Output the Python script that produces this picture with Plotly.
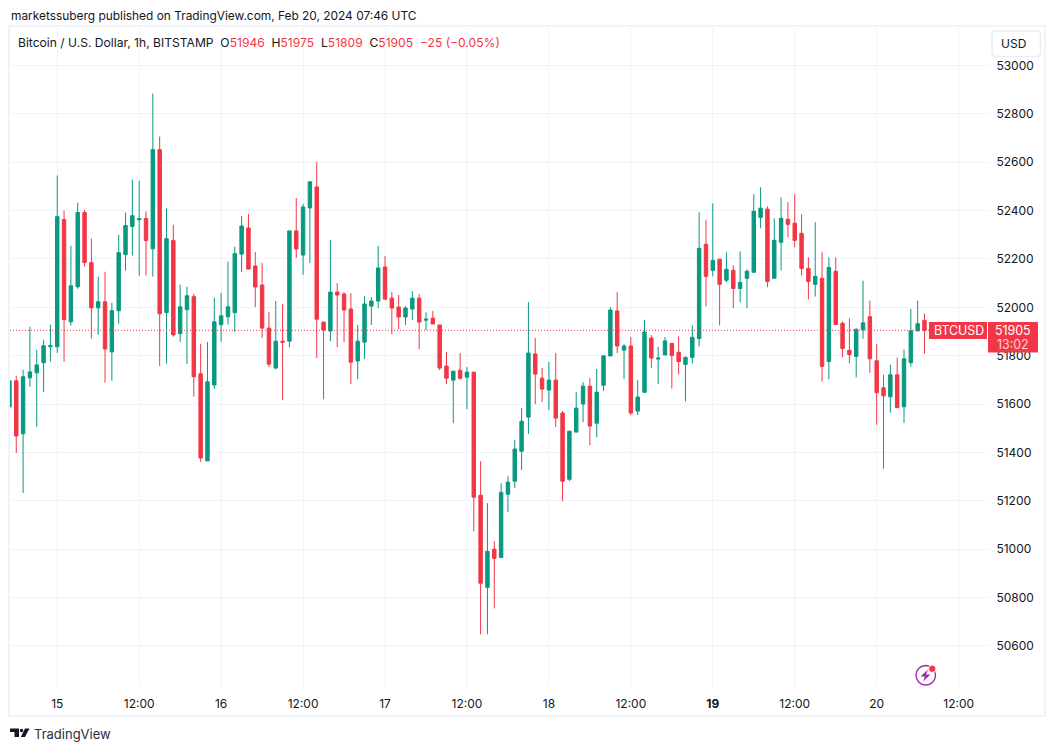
import pandas as pd
import plotly.graph_objects as go

first_candle = "2024-02-14 17:00"
opens = [51588,51696,51477,51708,51729,51771,51837,51837,52363,51940,
52085,52392,52185,51998,52023,51816,51986,52218,52334,52362,
52367,52242,52652,51978,52276,51891,51990,52044,51725,51365,
51679,51928,51961,51978,52220,52328,52171,52092,51914,51749,
51860,51860,52316,52216,52411,52498,51939,51902,52063,52055,
51993,51778,51856,52005,52026,52167,52038,52001,51960,51993,
52038,51947,51955,51927,51757,51699,51740,51711,51732,51223,
50842,51000,50966,51227,51281,51405,51546,51807,51707,51658,
51699,51563,51289,51484,51600,51674,51521,51678,51799,51985,
51823,51840,51571,51649,51873,51786,51803,51851,51814,51764,
51793,51871,52261,52153,52199,52112,52153,52078,52120,52145,
52372,52406,52120,52269,52364,52348,52306,52161,52095,52120,
51776,52149,51934,51822,51797,51907,51961,51779,51667,51630,
51721,51589,51771,51903,51946]
highs = [51696,51717,51742,51920,51824,51866,51928,52545,52400,52255,
52433,52404,52284,52127,52147,52019,52300,52392,52528,52524,
52396,52884,52706,52408,52342,52093,52085,52056,51849,51857,
52040,52060,52189,52251,52378,52386,52229,52183,51980,52026,
52014,52316,52452,52428,52519,52601,51939,52278,52100,52063,
52059,51927,52047,52042,52254,52212,52063,52051,52005,52067,
52055,51980,51985,51927,51815,51736,51811,51753,51732,51364,
51190,51033,51273,51302,51451,51583,52022,51873,51749,51774,
51811,51571,51488,51649,51691,51707,51745,51803,52001,52063,
51848,51877,51699,51948,51885,51836,51877,51851,51880,51797,
51925,52393,52360,52430,52199,52228,52174,52232,52157,52468,
52497,52418,52368,52455,52435,52468,52385,52207,52352,52228,
52207,52207,51942,51954,51913,52110,52028,51849,51721,51763,
51792,51825,51994,52028,51975]
lows = [51588,51398,51232,51671,51506,51650,51775,51812,51775,51924,
52077,52168,51870,51886,51688,51696,51932,52151,52214,52131,
52131,52127,51758,51766,51878,51857,51766,51630,51361,51365,
51663,51857,51928,51899,52146,52158,52001,51873,51753,51744,
51616,51835,52204,52134,52183,51790,51620,51860,51835,51856,
51682,51703,51786,51927,51997,52030,51889,51910,51927,51947,
51827,51906,51931,51740,51682,51521,51699,51579,51074,50648,
50648,50755,50966,51153,51252,51327,51476,51600,51608,51575,
51505,51198,51281,51484,51525,51430,51463,51654,51799,51811,
51703,51554,51554,51645,51749,51683,51803,51664,51722,51611,
51768,51838,52004,52128,51925,52103,51996,52020,51996,52145,
52327,52083,52120,52153,52290,52248,52132,52033,52045,51693,
51702,51929,51793,51768,51710,51870,51729,51514,51332,51564,
51585,51522,51754,51899,51809]
closes = [51696,51468,51713,51733,51762,51841,51841,52375,51949,52089,
52392,52185,51998,52023,51828,51986,52226,52338,52379,52367,
52276,52652,51973,52284,51886,52002,52048,51713,51377,51692,
51940,51965,52002,52222,52336,52158,52084,51914,51765,51860,
51856,52316,52241,52415,52519,51951,51906,52063,52051,51989,
51773,51860,52014,52026,52163,52034,51997,51960,51997,52038,
51939,51951,51931,51749,51707,51736,51707,51732,51215,50859,
50991,50962,51235,51277,51414,51529,51811,51724,51662,51699,
51542,51281,51488,51583,51674,51509,51649,51799,51989,51840,
51840,51563,51629,51898,51790,51790,51861,51801,51776,51793,
51876,52244,52128,52194,52095,52157,52078,52103,52149,52397,
52410,52107,52277,52368,52343,52277,52161,52107,52128,51756,
52165,51929,51830,51805,51909,51936,51787,51647,51634,51721,
51585,51787,51903,51932,51905]

x_tick_dates = ["2024-02-15 00:00","2024-02-15 12:00","2024-02-16 00:00","2024-02-16 12:00",
                "2024-02-17 00:00","2024-02-17 12:00","2024-02-18 00:00","2024-02-18 12:00",
                "2024-02-19 00:00","2024-02-19 12:00","2024-02-20 00:00","2024-02-20 12:00"]
x_tick_labels = ["15","12:00","16","12:00","17","12:00","18","12:00","<b>19</b>","12:00","20","12:00"]
y_ticks = [50600,50800,51000,51200,51400,51600,51800,52000,52200,52400,52600,52800,53000]
last_price = 51905

times = pd.date_range(first_candle, periods=len(opens), freq="h")

W, H = 1054, 751
L, R, T, B = 10, 988, 28, 687
UP, DOWN = "#089981", "#F23645"
INK = "#131722"
GRID = "#F0F3FA"
FONT = "Inter"

def px(x):
    return (x - L) / (R - L)
def py(y):
    return (B - y) / (B - T)

fig = go.Figure(go.Candlestick(
    x=times, open=opens, high=highs, low=lows, close=closes,
    increasing=dict(line=dict(color=UP, width=1), fillcolor=UP),
    decreasing=dict(line=dict(color=DOWN, width=1), fillcolor=DOWN),
    whiskerwidth=0, hoverinfo="skip", showlegend=False,
))

shapes = [
    dict(type="line", xref="paper", yref="y", x0=0, x1=1, y0=last_price, y1=last_price,
         line=dict(color=DOWN, width=1, dash="1px,2px"), layer="above"),
    # outer frame
    dict(type="rect", xref="paper", yref="paper", x0=px(9), x1=px(1045), y0=py(26), y1=py(716),
         line=dict(color=GRID, width=2), fillcolor="rgba(0,0,0,0)"),
    # symbol and price tags
    dict(type="rect", xref="paper", yref="paper", x0=px(929), x1=px(987), y0=py(322), y1=py(339),
         line=dict(width=0), fillcolor=DOWN),
    dict(type="rect", xref="paper", yref="paper", x0=px(988), x1=px(1038), y0=py(322), y1=py(352.5),
         line=dict(width=0), fillcolor=DOWN),
    # USD button
    dict(type="path", xref="paper", yref="paper",
         path="M {} {} Q {} {} {} {} L {} {} Q {} {} {} {} L {} {} Q {} {} {} {} L {} {} Q {} {} {} {} Z".format(
             px(992), py(35), px(992), py(31), px(996), py(31),
             px(1036.5), py(31), px(1040.5), py(31), px(1040.5), py(35),
             px(1040.5), py(52.5), px(1040.5), py(56.5), px(1036.5), py(56.5),
             px(996), py(56.5), px(992), py(56.5), px(992), py(52.5)),
         line=dict(color="#EAEDF5", width=1.6), fillcolor="white"),
    # TradingView mark
    dict(type="path", xref="paper", yref="paper",
         path="M {} {} L {} {} L {} {} L {} {} L {} {} L {} {} Z".format(
             px(10), py(728.5), px(19), py(728.5), px(19), py(737), px(14.5), py(737), px(14.5), py(732), px(10), py(732)),
         line=dict(width=0), fillcolor=INK),
    dict(type="circle", xref="paper", yref="paper", x0=px(19.8), x1=px(23.2), y0=py(732.2), y1=py(728.8),
         line=dict(width=0), fillcolor=INK),
    dict(type="path", xref="paper", yref="paper",
         path="M {} {} L {} {} L {} {} L {} {} Z".format(
             px(25), py(728.5), px(29.5), py(728.5), px(25), py(737), px(20.8), py(737)),
         line=dict(width=0), fillcolor=INK),
    # lightning badge
    dict(type="circle", xref="paper", yref="paper", x0=px(916), x1=px(935.5), y0=py(685), y1=py(665.5),
         line=dict(color="#9C27B0", width=1.4), fillcolor="rgba(0,0,0,0)"),
    dict(type="path", xref="paper", yref="paper",
         path="M {} {} L {} {} L {} {} L {} {} L {} {} L {} {} Z".format(
             px(928), py(669.5), px(920.5), py(676.5), px(925), py(676.5), px(923), py(681.5), px(930.5), py(674.5), px(926), py(674.5)),
         line=dict(width=0), fillcolor="#9C27B0"),
    dict(type="circle", xref="paper", yref="paper", x0=px(928.5), x1=px(936), y0=py(672.5), y1=py(665),
         line=dict(color="white", width=1), fillcolor=DOWN),
]

def note(x, y, text, size=12, color=INK, anchor="left"):
    return dict(xref="paper", yref="paper", x=px(x), y=py(y), text=text, showarrow=False,
                xanchor=anchor, yanchor="middle", align=anchor,
                font=dict(family=FONT, size=size, color=color), borderpad=0)

def red(s):
    return f'<span style="color:{DOWN}">{s}</span>'

legend = ("Bitcoin / U.S. Dollar, 1h, BITSTAMP  "
          f"O{red('51946')}  H{red('51975')}  L{red('51809')}  C{red('51905')}  {red('−25 (−0.05%)')}")

annotations = [
    note(10, 15.5, "marketssuberg published on TradingView.com, Feb 20, 2024 07:46 UTC", 11.9),
    note(17, 43, legend, 12.1),
    note(1014, 43.5, "USD", 12, anchor="center"),
    note(958.5, 330.5, "BTCUSD", 12.4, "#FFFFFF", "center"),
    note(1013, 330.5, "51905", 12.4, "#FFFFFF", "center"),
    note(1013, 344.5, "13:02", 12.4, "#FBD5D9", "center"),
    note(33, 734, "TradingView", 13, "#2A2E39"),
]

fig.update_layout(
    width=W, height=H, autosize=False,
    margin=dict(l=L, r=W - R, t=T, b=H - B, pad=0),
    paper_bgcolor="white", plot_bgcolor="white",
    font=dict(family=FONT, size=12, color=INK),
    showlegend=False, boxgap=0.28,
    shapes=shapes, annotations=annotations,
    xaxis=dict(
        type="date", rangeslider=dict(visible=False),
        range=["2024-02-14 17:05", "2024-02-20 16:18"],
        tickmode="array", tickvals=x_tick_dates, ticktext=x_tick_labels,
        showgrid=True, gridcolor=GRID, gridwidth=1, zeroline=False, showline=False,
        ticks="outside", ticklen=6, tickcolor="rgba(0,0,0,0)",
        tickfont=dict(family=FONT, size=12, color=INK), fixedrange=True,
    ),
    yaxis=dict(
        side="right", range=[50430, 53155],
        tickmode="array", tickvals=y_ticks, ticktext=[str(v) for v in y_ticks],
        showgrid=True, gridcolor=GRID, gridwidth=1, zeroline=False, showline=False,
        ticks="outside", ticklen=5, tickcolor="rgba(0,0,0,0)",
        tickfont=dict(family=FONT, size=12, color=INK), fixedrange=True,
    ),
)

fig.write_html("out.html", config=dict(displayModeBar=False),
               post_script="document.body.style.margin='0';")
